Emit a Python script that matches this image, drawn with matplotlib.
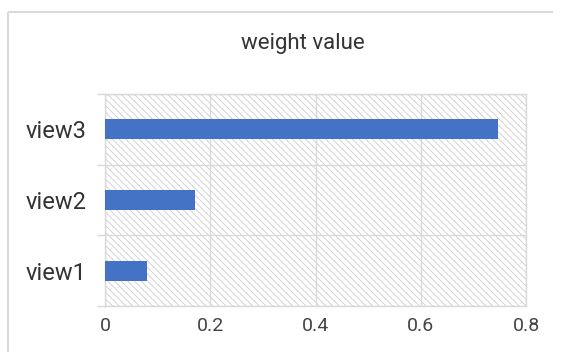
import matplotlib
matplotlib.use("Agg")
import matplotlib.pyplot as plt
from matplotlib.patches import Rectangle
from matplotlib.lines import Line2D

# data
views = ["view1", "view2", "view3"]
weights = [0.08, 0.171, 0.746]
xticks = [0, 0.2, 0.4, 0.6, 0.8]
title = "weight value"

plt.rcParams["font.family"] = ["Roboto", "DejaVu Sans"]
plt.rcParams["hatch.linewidth"] = 0.6
plt.rcParams["hatch.color"] = "#cccccc"

grid_col = "#d9d9d9"
bar_col = "#4472c4"

fig = plt.figure(figsize=(5.61, 3.52), dpi=100)

# outer chart frame (cropped on right/bottom): only left and top edges visible
fx, fy = 8/561, 1 - 12/352
fig.add_artist(Line2D([fx, fx], [0, fy], transform=fig.transFigure,
                      color=grid_col, linewidth=1.5, solid_capstyle="butt"))
fig.add_artist(Line2D([fx, 0.985], [fy, fy], transform=fig.transFigure,
                      color=grid_col, linewidth=1.5, solid_capstyle="butt"))

ax = fig.add_axes([105/561, 1 - 306/352, 421/561, 212/352])
ax.set_facecolor("white")
ax.add_patch(Rectangle((0, 0), 1, 1, transform=ax.transAxes, facecolor="white",
                       hatch="\\\\\\\\\\", edgecolor="#cccccc", linewidth=0, zorder=0))

pos = list(range(len(views)))
ax.barh(pos, weights, height=0.28, color=bar_col, zorder=3)

ax.set_xlim(0, 0.8)
ax.set_ylim(-0.5, 2.5)
ax.set_xticks(xticks)
ax.set_xticklabels([f"{t:g}" for t in xticks])

# category labels at centers, tick marks at boundaries
ax.set_yticks(pos)
ax.set_yticklabels(views, fontsize=17, color="#333333")
ax.tick_params(axis="y", length=0, pad=13)
ax.set_yticks([-0.5, 0.5, 1.5, 2.5], minor=True)
ax.tick_params(axis="y", which="minor", length=6, color=grid_col, width=1)
ax.tick_params(axis="x", length=0, labelsize=14, labelcolor="#444444", pad=8)

ax.grid(axis="x", color=grid_col, linewidth=1, zorder=1)
ax.grid(axis="y", which="minor", color=grid_col, linewidth=1, zorder=1)
ax.set_axisbelow(True)
for s in ax.spines.values():
    s.set_color(grid_col)
    s.set_linewidth(1)

fig.text(303/561, 1 - 43/352, title, ha="center", va="center",
         fontsize=16, color="#333333")

fig.savefig("out.png", dpi=100, facecolor="white")
